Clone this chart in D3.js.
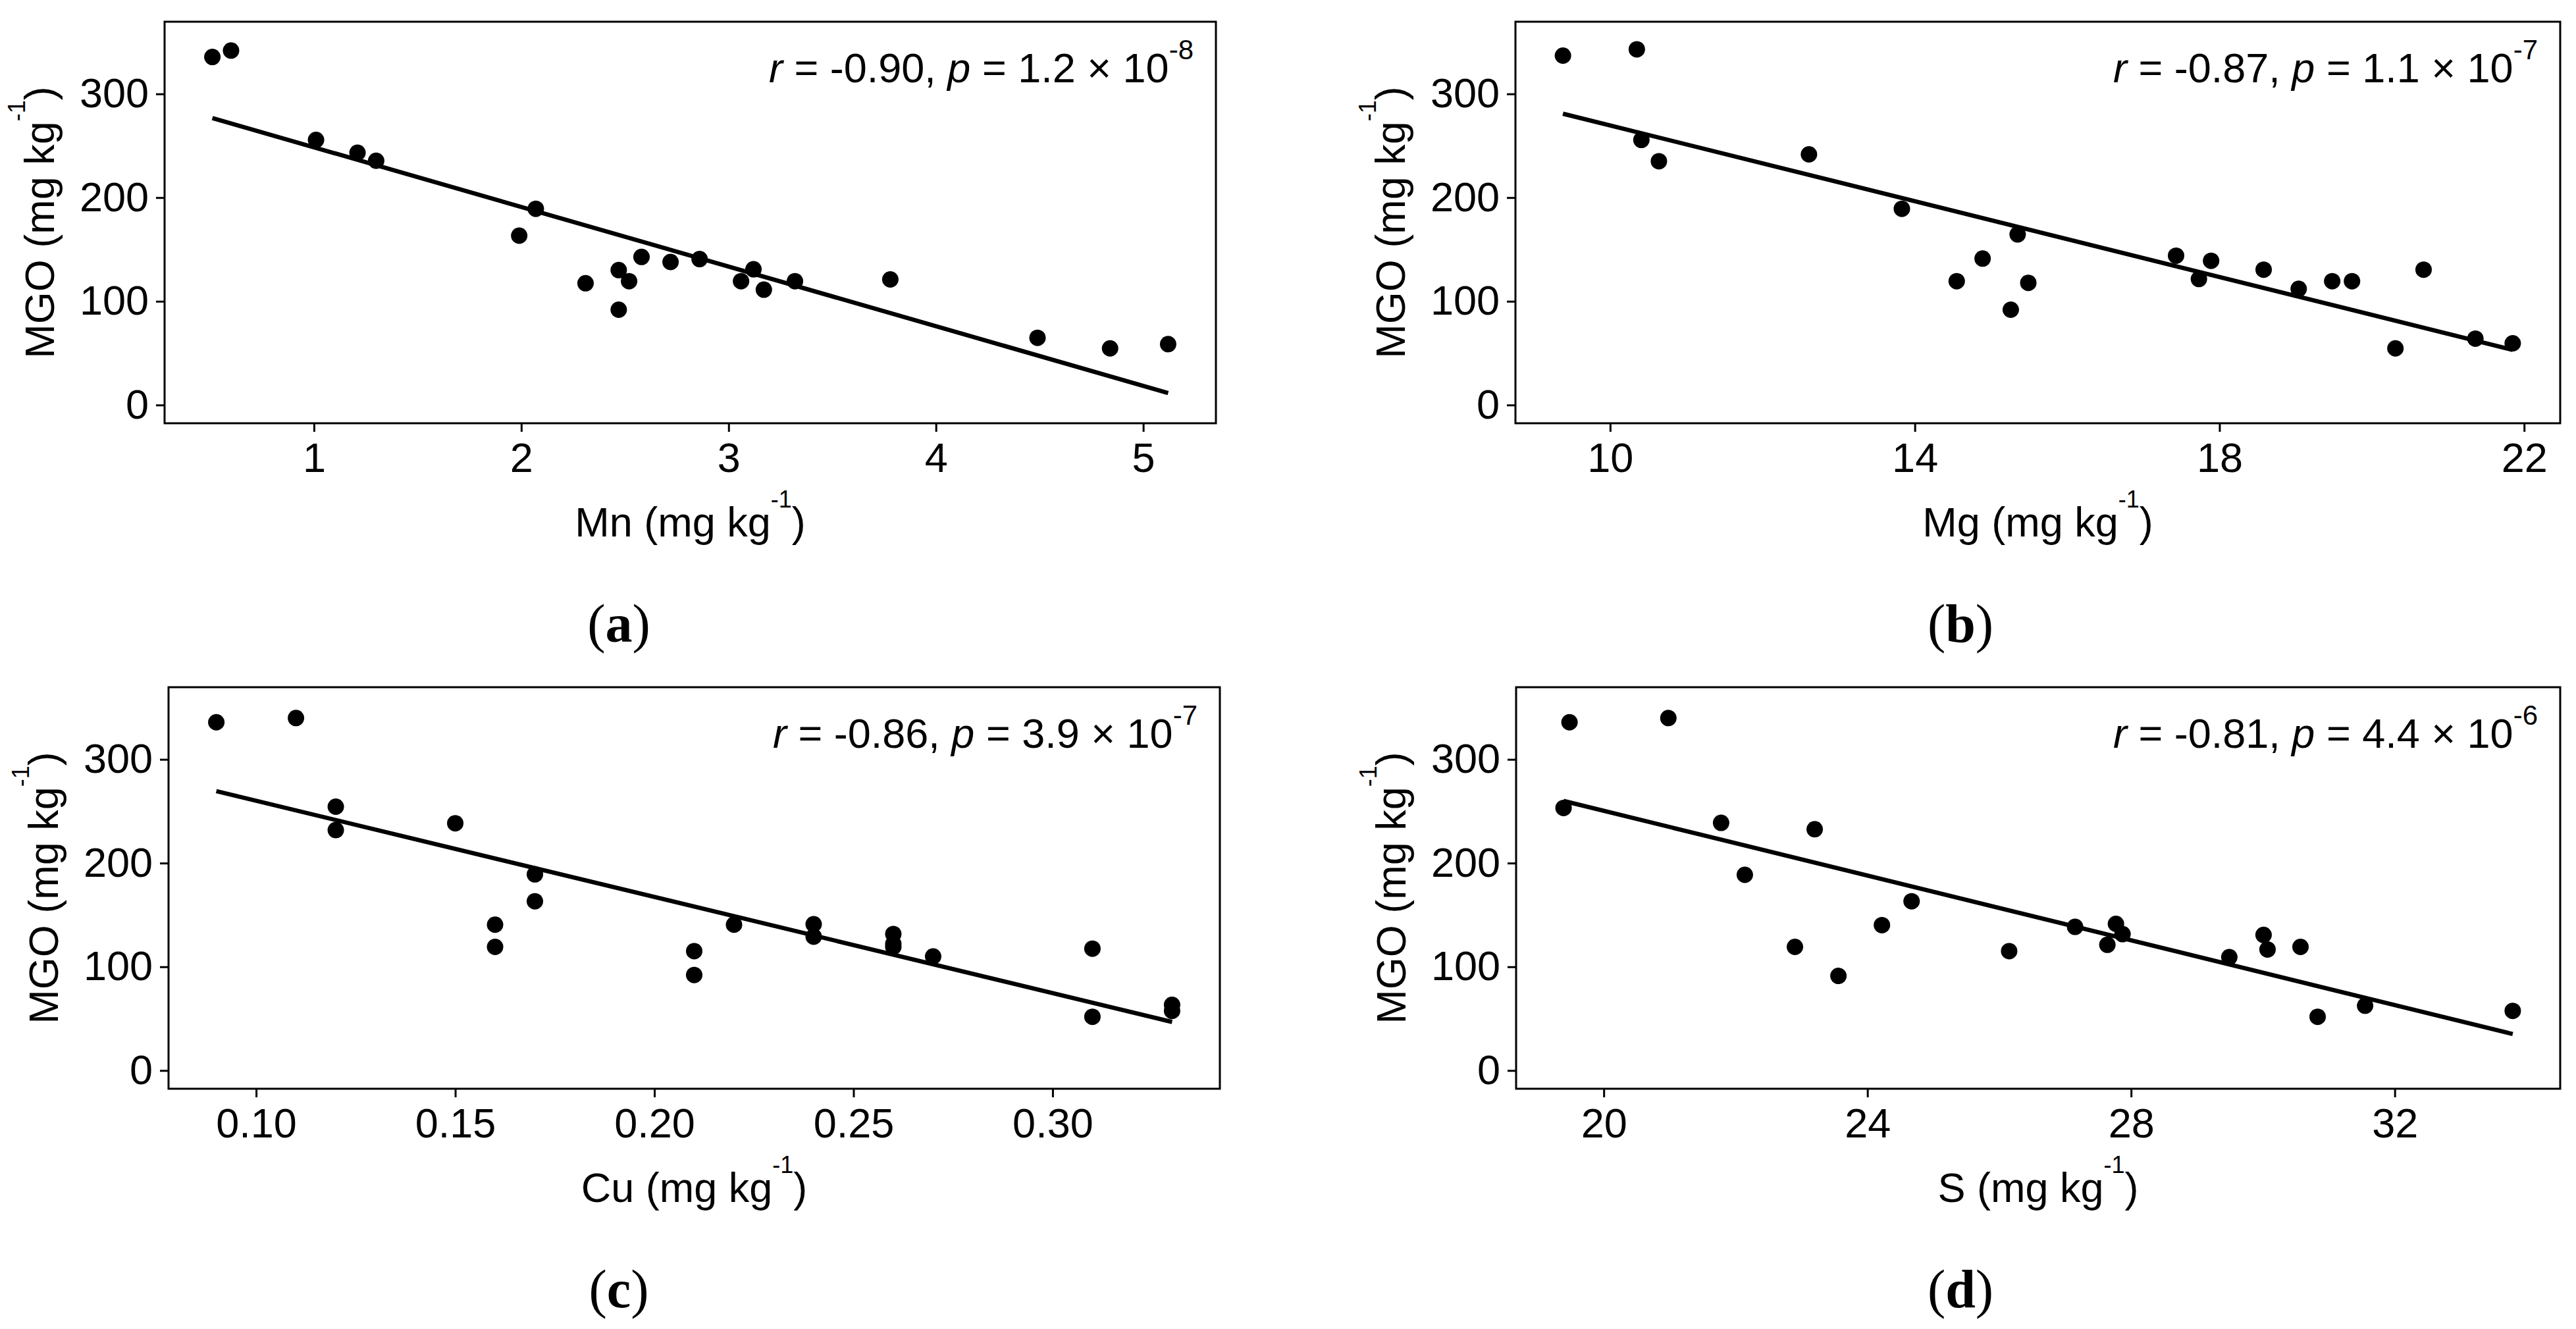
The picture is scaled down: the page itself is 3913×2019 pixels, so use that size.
<!DOCTYPE html>
<html lang="en">
<head>
    <meta charset="utf-8">
    <script src="https://d3js.org/d3.v7.min.js"></script>
    <style>
        body {margin: 0; background: #fff;}
        svg text {font-family: "Liberation Sans", Arial, sans-serif; fill: #000;}
        .cap {font-family: "Liberation Serif", "Times New Roman", serif;}
    </style>
</head>
<body>
    <svg id="chart" width="3913" height="2019"></svg>

    <script>
        // MGO against each element
        const mnX = [0.51, 0.60, 1.01, 1.21, 1.30, 1.99, 2.07, 2.31, 2.47, 2.47, 2.52, 2.58, 2.72, 2.86, 3.06, 3.12, 3.17, 3.32, 3.78, 4.49, 4.84, 5.12];
        const mnY = [335.6, 341.8, 255.6, 243.3, 235.5, 163.3, 189.2, 117.4, 130.1, 91.9, 119.4, 142.8, 137.9, 140.7, 119.4, 130.9, 111.2, 119.4, 121.1, 64.8, 54.6, 58.7];

        const mgX = [9.38, 10.35, 10.41, 10.64, 12.61, 13.83, 14.55, 14.89, 15.26, 15.35, 15.49, 17.43, 17.73, 17.89, 18.58, 19.04, 19.48, 19.74, 20.31, 20.68, 21.36, 21.85];
        const mgY = [336.9, 343.0, 255.6, 235.1, 241.7, 189.2, 119.4, 141.2, 91.9, 164.5, 117.8, 144.0, 121.5, 139.1, 130.5, 112.0, 119.4, 119.4, 54.6, 130.5, 64.0, 59.5];

        const cuX = [0.09, 0.11, 0.12, 0.12, 0.15, 0.16, 0.16, 0.17, 0.17, 0.21, 0.21, 0.22, 0.24, 0.24, 0.26, 0.26, 0.26, 0.27, 0.31, 0.31, 0.33, 0.33];
        const cuY = [335.8, 339.9, 254.4, 231.8, 238.4, 140.6, 119.2, 189.1, 163.2, 115.1, 92.1, 140.6, 141.1, 129.1, 131.6, 122.1, 119.2, 110.0, 117.5, 51.8, 63.3, 57.5];

        const sX = [19.39, 19.48, 20.98, 21.78, 22.14, 22.90, 23.20, 23.56, 24.22, 24.67, 26.15, 27.15, 27.64, 27.77, 27.87, 29.49, 30.01, 30.07, 30.57, 30.83, 31.55, 33.79];
        const sY = [253.2, 335.8, 339.9, 238.8, 188.7, 119.2, 232.6, 91.2, 140.2, 163.2, 115.1, 138.5, 121.2, 141.4, 131.5, 109.3, 130.7, 116.7, 119.2, 51.8, 62.5, 57.5];

        const elements = ["Mn", "Mg", "Cu", "S"];
        const letters = ["a", "b", "c", "d"];
        const rValues = ["-0.90", "-0.87", "-0.86", "-0.81"];
        const pValues = ["1.2", "1.1", "3.9", "4.4"];
        const pExponents = ["-8", "-7", "-7", "-6"];

        const xTicksMn = [1, 2, 3, 4, 5];
        const xTicksMg = [10, 14, 18, 22];
        const xTicksCu = [0.10, 0.15, 0.20, 0.25, 0.30];
        const xTicksS = [20, 24, 28, 32];
        const yTicks = [0, 100, 200, 300];
        const yLimits = [0, 352];

        const xs = [mnX, mgX, cuX, sX];
        const ys = [mnY, mgY, cuY, sY];
        const xTicks = [xTicksMn, xTicksMg, xTicksCu, xTicksS];
        const xFormats = [d3.format("d"), d3.format("d"), d3.format(".2f"), d3.format("d")];

        // panel boxes in page pixels
        const boxes = [
            {left: 250, right: 1847, top: 33, bottom: 643, capX: 940},
            {left: 2302, right: 3889, top: 33, bottom: 643, capX: 2978},
            {left: 256, right: 1853, top: 1044, bottom: 1654, capX: 940},
            {left: 2303, right: 3889, top: 1044, bottom: 1654, capX: 2978}
        ];

        const svg = d3.select("#chart");
        svg.append("rect").attr("width", 3913).attr("height", 2019).attr("fill", "#fff");

        function pad(ext) {
            const d = (ext[1] - ext[0]) * 0.05;
            return [ext[0] - d, ext[1] + d];
        }

        // least squares fit
        function fit(x, y) {
            const mx = d3.mean(x), my = d3.mean(y);
            let sxy = 0, sxx = 0;
            for (let i = 0; i < x.length; i++) {
                sxy += (x[i] - mx) * (y[i] - my);
                sxx += (x[i] - mx) * (x[i] - mx);
            }
            const b = sxy / sxx;
            return {a: my - b * mx, b: b};
        }

        boxes.forEach((box, k) => {
            const xData = xs[k], yData = ys[k];
            const g = svg.append("g");

            const x = d3.scaleLinear().domain(pad(d3.extent(xData))).range([box.left, box.right]);
            const y = d3.scaleLinear().domain(pad(yLimits)).range([box.bottom, box.top]);

            // axes
            const xAxis = g.append("g")
                .attr("transform", `translate(0,${box.bottom})`)
                .call(d3.axisBottom(x).tickValues(xTicks[k]).tickFormat(xFormats[k]).tickSize(13).tickPadding(16));
            const yAxis = g.append("g")
                .attr("transform", `translate(${box.left},0)`)
                .call(d3.axisLeft(y).tickValues(yTicks).tickSize(13).tickPadding(11));
            [xAxis, yAxis].forEach(a => {
                a.select(".domain").remove();
                a.selectAll("line").attr("stroke", "#000").attr("stroke-width", 3);
                a.selectAll("text").attr("font-size", 63).attr("font-family", "Liberation Sans, Arial, sans-serif");
            });

            // fit line
            const f = fit(xData, yData);
            const ext = d3.extent(xData);
            g.append("path")
                .datum(ext)
                .attr("d", d3.line().x(d => x(d)).y(d => y(f.a + f.b * d)))
                .attr("fill", "none")
                .attr("stroke", "#000")
                .attr("stroke-width", 6.5);

            // points
            g.append("g").selectAll("circle")
                .data(xData.map((v, i) => [v, yData[i]]))
                .join("circle")
                .attr("cx", d => x(d[0]))
                .attr("cy", d => y(d[1]))
                .attr("r", 12.5)
                .attr("fill", "#000");

            // frame
            g.append("rect")
                .attr("x", box.left).attr("y", box.top)
                .attr("width", box.right - box.left).attr("height", box.bottom - box.top)
                .attr("fill", "none").attr("stroke", "#000").attr("stroke-width", 3);

            // r and p
            const stat = g.append("text")
                .attr("x", box.right - 34)
                .attr("y", box.top + 92)
                .attr("text-anchor", "end")
                .attr("font-size", 63);
            stat.append("tspan").attr("font-style", "italic").text("r");
            stat.append("tspan").text(" = " + rValues[k] + ", ");
            stat.append("tspan").attr("font-style", "italic").text("p");
            stat.append("tspan").text(" = " + pValues[k] + " \u00d7 10");
            stat.append("tspan").attr("font-size", 42).attr("dy", -35).text(pExponents[k]);

            // x title
            const xt = g.append("text")
                .attr("x", (box.left + box.right) / 2)
                .attr("y", box.bottom + 172)
                .attr("text-anchor", "middle")
                .attr("font-size", 63);
            xt.append("tspan").text(elements[k] + " (mg kg");
            xt.append("tspan").attr("font-size", 36).attr("dy", -44).text("-1");
            xt.append("tspan").attr("dy", 44).text(")");

            // y title
            const yt = g.append("text")
                .attr("transform", `translate(${box.left - 168},${(box.top + box.bottom) / 2}) rotate(-90)`)
                .attr("text-anchor", "middle")
                .attr("font-size", 63);
            yt.append("tspan").text("MGO (mg kg");
            yt.append("tspan").attr("font-size", 36).attr("dy", -44).text("-1");
            yt.append("tspan").attr("dy", 44).text(")");

            // panel letter
            const cap = g.append("text")
                .attr("class", "cap")
                .attr("x", box.capX)
                .attr("y", box.top + 942)
                .attr("text-anchor", "middle")
                .attr("font-size", 82);
            cap.append("tspan").text("(");
            cap.append("tspan").attr("font-weight", "bold").text(letters[k]);
            cap.append("tspan").text(")");
        });
    </script>
</body>
</html>
